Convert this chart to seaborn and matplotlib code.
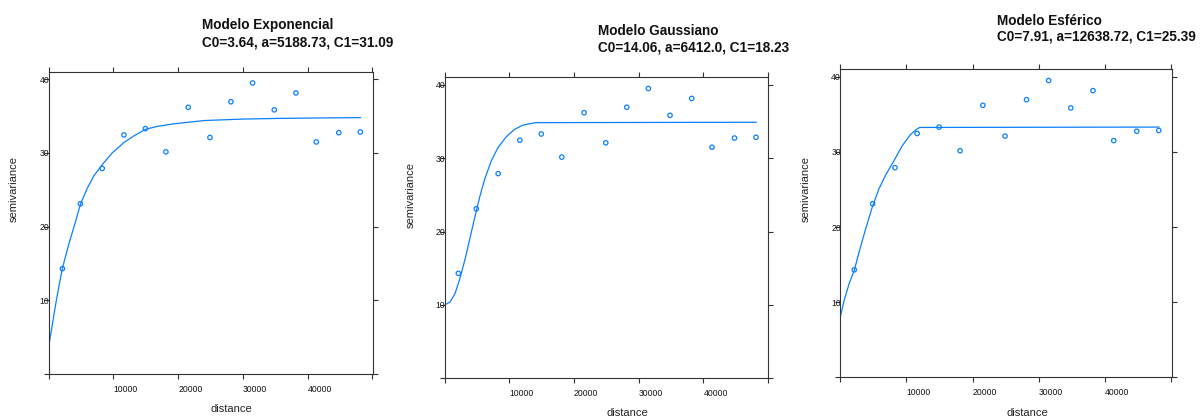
import matplotlib
matplotlib.use("Agg")
import matplotlib.pyplot as plt
import seaborn as sns
import pandas as pd

# ---- data ----
dist = [2110, 4890, 8270, 11620, 14940, 18110, 21560, 24910, 28160, 31500, 34850, 38200, 41340, 44820, 48150]
gamma = [14.3, 23.1, 27.9, 32.45, 33.3, 30.15, 36.2, 32.1, 36.95, 39.5, 35.85, 38.15, 31.5, 32.75, 32.85]

exp_d = [0, 1180, 2100, 3130, 4150, 4925, 5950, 6980, 8260, 9800, 11600, 13130, 14930, 16720, 19290, 24000, 30000, 36000, 42000, 48200]
exp_g = [3.7, 10.0, 14.3, 17.7, 20.7, 23.1, 25.2, 26.9, 28.4, 30.0, 31.4, 32.3, 33.2, 33.6, 33.95, 34.4, 34.6, 34.7, 34.75, 34.8]

gau_d = [0, 820, 1580, 2350, 3110, 3880, 4640, 5410, 6170, 7190, 8210, 9490, 10760, 12040, 14080, 48200]
gau_g = [10.0, 10.4, 11.5, 13.6, 16.1, 19.0, 21.9, 24.7, 27.1, 29.6, 31.4, 32.9, 33.9, 34.5, 34.85, 34.9]

sph_d = [0, 600, 1350, 2100, 2850, 3850, 4850, 5850, 6850, 8100, 9350, 10600, 11600, 12000, 48200]
sph_g = [8.05, 10.3, 12.5, 14.2, 16.7, 19.8, 22.7, 25.1, 26.9, 28.8, 30.8, 32.3, 33.05, 33.25, 33.3]

titles = ["Modelo Exponencial", "Modelo Gaussiano", "Modelo Esférico"]
params = ["C0=3.64, a=5188.73, C1=31.09", "C0=14.06, a=6412.0, C1=18.23", "C0=7.91, a=12638.72, C1=25.39"]
x_ticks = [0, 10000, 20000, 30000, 40000, 50000]
x_tick_labels = ["", "10000", "20000", "30000", "40000", ""]
y_ticks = [0, 10, 20, 30, 40]
y_tick_labels = ["", "10", "20", "30", "40"]
x_label = "distance"
y_label = "semivariance"

curves = [(exp_d, exp_g), (gau_d, gau_g), (sph_d, sph_g)]

sns.set_theme(style="white")
plt.rcParams["font.family"] = ["Liberation Sans", "DejaVu Sans"]

W, H = 1200.0, 417.0
fig = plt.figure(figsize=(12, 4.17), dpi=100)

# axes box in pixels: left, right, top, bottom
boxes = [(48.7, 373.3, 71.7, 374.0),
         (444.7, 768.3, 77.3, 378.3),
         (840.3, 1172.0, 69.0, 377.3)]
xmaxs = [50150, 50050, 50150]
ymax = 41.03
title_pos = [(202.3, 29.0, 46.3), (598.0, 35.0, 51.0), (997.3, 24.7, 40.7)]
ylab_pos = [(14.2, 189.0), (411.0, 194.5), (806.0, 189.0)]
xlab_pos = [(231.3, 412.3), (627.0, 416.3), (1027.3, 416.3)]

blue = "#0a80ff"
frame = "#333333"

pts = pd.DataFrame({"distance": dist, "semivariance": gamma})

for i in range(3):
    l, r, t, b = boxes[i]
    ax = fig.add_axes([l / W, 1 - b / H, (r - l) / W, (b - t) / H])
    cd, cg = curves[i]
    line_df = pd.DataFrame({"distance": cd, "semivariance": cg})
    sns.lineplot(data=line_df, x="distance", y="semivariance", ax=ax,
                 color=blue, linewidth=0.9, sort=False, estimator=None)
    sns.scatterplot(data=pts, x="distance", y="semivariance", ax=ax,
                    marker="o", s=10, facecolor="none", edgecolor=blue,
                    linewidth=0.9)
    ax.set_xlim(0, xmaxs[i])
    ax.set_ylim(0, ymax)
    ax.set_xticks(x_ticks)
    ax.set_xticklabels(x_tick_labels)
    ax.set_yticks(y_ticks)
    ax.set_yticklabels(y_tick_labels)
    ax.set_xlabel("")
    ax.set_ylabel("")
    for s in ax.spines.values():
        s.set_visible(True)
        s.set_color(frame)
        s.set_linewidth(0.8)
    ax.tick_params(axis="both", which="major", direction="out", length=3.8,
                   width=0.8, color=frame, top=True, right=True,
                   bottom=True, left=True,
                   labeltop=False, labelright=False,
                   labelbottom=True, labelleft=True, labelsize=6.2,
                   labelcolor="#111111")
    ax.tick_params(axis="x", pad=4.0)
    ax.tick_params(axis="y", pad=-4.3)
    for lab in ax.get_xticklabels():
        lab.set_ha("left")
    for lab in ax.get_yticklabels():
        lab.set_ha("right")
    ax.grid(False)

    tx, ty1, ty2 = title_pos[i]
    fig.text(tx / W, 1 - ty1 / H, titles[i], fontsize=9.8, fontweight="bold",
             ha="left", va="baseline", color="#111111")
    fig.text(tx / W, 1 - ty2 / H, params[i], fontsize=9.8, fontweight="bold",
             ha="left", va="baseline", color="#111111")
    yx, yy = ylab_pos[i]
    fig.text(yx / W, 1 - yy / H, y_label, fontsize=8, rotation=90,
             ha="center", va="center", color="#222222")
    xx, xy = xlab_pos[i]
    fig.text(xx / W, 1 - xy / H, x_label, fontsize=8, ha="center",
             va="baseline", color="#222222")

fig.savefig("out.png", dpi=100)
